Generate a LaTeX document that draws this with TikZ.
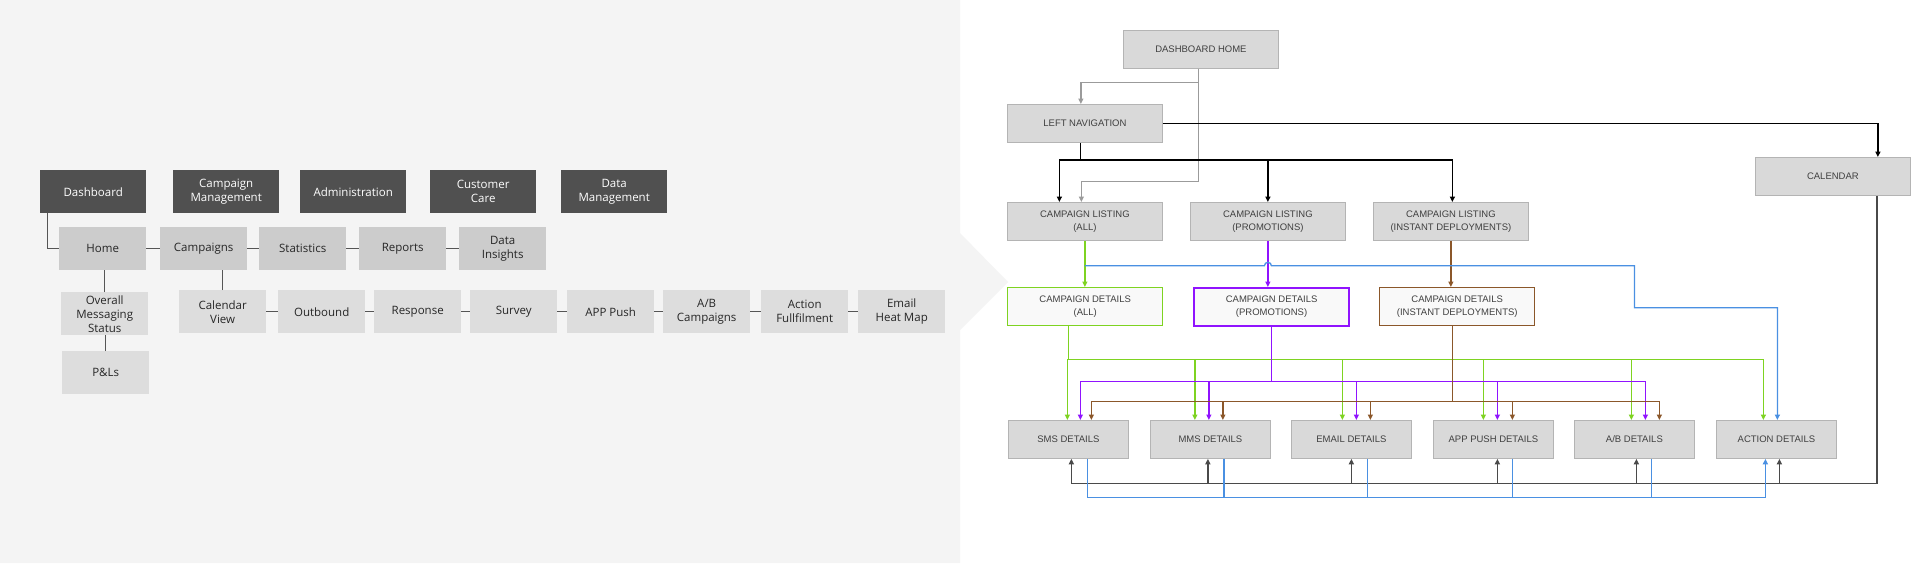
\documentclass[tikz,border=0pt]{standalone}
\usepackage{fontspec}
\setmainfont{Open Sans}
\newfontfamily\chartfont{Liberation Sans}
\usetikzlibrary{arrows.meta}
\definecolor{panelbg}{HTML}{F4F4F4}
\definecolor{darkbox}{HTML}{505050}
\definecolor{midbox}{HTML}{CCCCCC}
\definecolor{lightbox}{HTML}{DDDDDD}
\definecolor{linkgray}{HTML}{555555}
\definecolor{chartbox}{HTML}{D9D9D9}
\definecolor{chartedge}{HTML}{B4B4B4}
\definecolor{charttext}{HTML}{404040}
\definecolor{pickfill}{HTML}{F9F9F9}
\definecolor{navgray}{HTML}{9B9B9B}
\definecolor{botgray}{HTML}{4A4A4A}
\definecolor{skgreen}{HTML}{7ED321}
\definecolor{skpurple}{HTML}{9013FE}
\definecolor{skbrown}{HTML}{8B572A}
\definecolor{skblue}{HTML}{4A90E2}

\begin{document}
\begin{tikzpicture}[x=1pt, y=-1pt,
  >={Triangle[length=5.5pt, width=5pt]},
  dark/.style={fill=darkbox, text=white, minimum width=106pt, minimum height=43pt,
    inner sep=0pt, anchor=north west, align=center,
    font=\fontsize{11.5}{14}\selectfont},
  tab/.style={dark, fill=midbox, text=black!85, minimum width=87pt},
  sub/.style={tab, fill=lightbox},
  link/.style={draw=linkgray, line width=1.2pt},
  card/.style={fill=chartbox, draw=chartedge, line width=0.8pt, text=charttext,
    minimum width=155pt, minimum height=38pt, inner sep=0pt, anchor=north west,
    align=center, font=\chartfont\fontsize{9.5}{13}\selectfont},
  detail/.style={card, minimum width=120pt},
  pick/.style={card, fill=pickfill, draw=#1, line width=1.4pt},
  nav/.style={draw=navgray, line width=1.3pt},
  blk/.style={draw=black, line width=1.6pt},
  bot/.style={draw=botgray, line width=1.3pt},
  grn/.style={draw=skgreen, line width=1.3pt},
  prp/.style={draw=skpurple, line width=1.3pt},
  brn/.style={draw=skbrown, line width=1.3pt},
  blu/.style={draw=skblue, line width=1.3pt}
]
\useasboundingbox (0,0) rectangle (1920,563);

% Backdrops
\fill[white] (0,0) rectangle (1920,563);
\fill[panelbg] (0,0) -- (960,0) -- (960,233) -- (1008,282) -- (960,330)
  -- (960,563) -- (0,563) -- cycle;

% Left: menu sketch
\node[dark] (dash) at (40,170) {Dashboard};
\node[dark] (cmgmt) at (173,170) {Campaign\\Management};
\node[dark] (admin) at (300,170) {Administration};
\node[dark] (care) at (430,170) {Customer\\Care};
\node[dark] (dmgmt) at (561,170) {Data\\Management};

\node[tab] (home) at (59,227) {Home};
\node[tab] (camps) at (160,227) {Campaigns};
\node[tab] (stats) at (259,227) {Statistics};
\node[tab] (reps) at (359,227) {Reports};
\node[tab] (insight) at (459,227) {Data\\Insights};

\node[sub] (oms) at (61,292) {Overall\\Messaging\\Status};
\node[sub] (pnl) at (62,351) {P\&Ls};
\node[sub] (calv) at (179,290) {Calendar\\View};
\node[sub] (outb) at (278,290) {Outbound};
\node[sub] (resp) at (374,290) {Response};
\node[sub] (surv) at (470,290) {Survey};
\node[sub] (push) at (567,290) {APP Push};
\node[sub] (abc) at (663,290) {A/B\\Campaigns};
\node[sub] (actf) at (761,290) {Action\\Fullfilment};
\node[sub] (heat) at (858,290) {Email\\Heat Map};

\draw[link] ([xshift=7.5pt]dash.south west) |- (home.west);
\draw[link] (home.east) -- (camps.west);
\draw[link] (camps.east) -- (stats.west);
\draw[link] (stats.east) -- (reps.west);
\draw[link] (reps.east) -- (reps.east -| insight.west);
\draw[link] (oms.north) -- (oms.north |- home.south);
\draw[link] (pnl.north) -- (pnl.north |- oms.south);
\draw[link] (calv.north) -- (calv.north |- camps.south);
\draw[link] (calv.east) -- (outb.west);
\draw[link] (outb.east) -- (resp.west);
\draw[link] (resp.east) -- (surv.west);
\draw[link] (surv.east) -- (push.west);
\draw[link] (push.east) -- (abc.west);
\draw[link] (abc.east) -- (actf.west);
\draw[link] (actf.east) -- (heat.west);

% Right: page flow
\node[card] (dhome) at (1123,30) {DASHBOARD HOME};
\node[card] (lnav) at (1007,104) {LEFT NAVIGATION};
\node[card] (calendar) at (1755,157) {CALENDAR};
\node[card] (clall) at (1007,202) {CAMPAIGN LISTING\\(ALL)};
\node[card] (clpromo) at (1190,202) {CAMPAIGN LISTING\\(PROMOTIONS)};
\node[card] (clinst) at (1373,202) {CAMPAIGN LISTING\\(INSTANT DEPLOYMENTS)};
\node[pick=skgreen] (cdall) at (1007,287) {CAMPAIGN DETAILS\\(ALL)};
\node[pick=skpurple, line width=2.2pt] (cdpromo) at (1193,287) {CAMPAIGN DETAILS\\(PROMOTIONS)};
\node[pick=skbrown] (cdinst) at (1379,287) {CAMPAIGN DETAILS\\(INSTANT DEPLOYMENTS)};
\foreach \n/\x/\t in {sms/1008/SMS DETAILS, mms/1150/MMS DETAILS,
    email/1291/EMAIL DETAILS, apppush/1433/APP PUSH DETAILS,
    abdet/1574/{A/B DETAILS}, action/1716/ACTION DETAILS}
  \node[detail] (\n) at (\x,420) {\t};

% home and navigation
\draw[nav, ->] ([xshift=-2.5pt]dhome.south) -- ++(0,14) -| ([xshift=-4pt]lnav.north);
\draw[nav, ->] ([xshift=-2.5pt]dhome.south) -- ++(0,113) -| ([xshift=-3.5pt]clall.north);
\draw[blk, ->] (lnav.east) -| ([xshift=45pt]calendar.north);
\draw[blk] ([xshift=-4.5pt]lnav.south) -- ++(0,17) coordinate (lj);
\draw[blk, ->] (lj) -| ([xshift=-25.5pt]clall.north);
\draw[blk, ->] (lj) -| (clpromo.north);
\draw[blk, ->] (lj) -| ([xshift=1.5pt]clinst.north);

% listings to details
\draw[grn, ->] (clall.south) -- (clall.south |- cdall.north);
\draw[prp, ->] (clpromo.south) -- (clpromo.south |- cdpromo.north);
\draw[brn, ->] (clinst.south) -- (clinst.south |- cdinst.north);
\draw[blu, ->] (clall.south) ++(0,25) -- ++(179.5,0)
  arc[start angle=180, end angle=0, radius=3.5pt] -- ++(363,0) -- ++(0,42)
  -| ([xshift=1pt]action.north);

% details to channels
\draw[grn] ([xshift=-17pt]cdall.south) -- ++(0,33) coordinate (gj);
\foreach \n/\d in {sms/-1, mms/-15.5, email/-9, apppush/-10, abdet/-3, action/-13}
  \draw[grn, ->] (gj) -| ([xshift=\d pt]\n.north);
\draw[prp] (cdpromo.south) -- ++(0,54) coordinate (pj);
\foreach \n/\d in {sms/12, mms/-1.5, email/5, apppush/4, abdet/11}
  \draw[prp, ->] (pj) -| ([xshift=\d pt]\n.north);
\draw[brn] ([xshift=-4.5pt]cdinst.south) -- ++(0,75) coordinate (rj);
\foreach \n/\d in {sms/23, mms/12.5, email/19, apppush/19, abdet/25}
  \draw[brn, ->] (rj) -| ([xshift=\d pt]\n.north);

% calendar and action return lines
\draw[bot] ([xshift=44pt]calendar.south) -- ++(0,288) coordinate (dj);
\foreach \n/\d in {sms/3, mms/-2.5, email/0, apppush/4, abdet/2, action/3}
  \draw[bot, ->] (dj) -| ([xshift=\d pt]\n.south);
\draw[blu, ->] ([xshift=19pt]sms.south) -- ++(0,39) -| ([xshift=-11pt]action.south);
\foreach \n/\d in {mms/13.5, email/16, apppush/19, abdet/17}
  \draw[blu] ([xshift=\d pt]\n.south) -- ++(0,39);

\end{tikzpicture}
\end{document}
